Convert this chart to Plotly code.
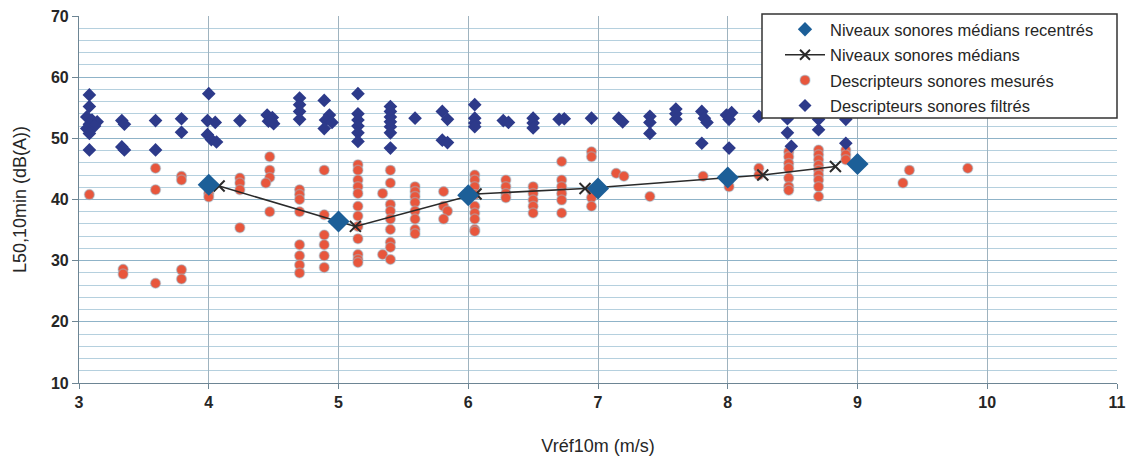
import plotly.graph_objects as go

# --- Descripteurs sonores filtrés (blue small diamonds)
filt_x = [3.08, 3.08, 3.06, 3.10, 3.14, 3.08, 3.12, 3.06, 3.08, 3.08,
          3.33, 3.35, 3.33, 3.35,
          3.59, 3.59,
          3.79, 3.79,
          4.00, 3.99, 4.05, 3.99, 4.02, 4.06,
          4.24,
          4.45, 4.49, 4.46, 4.50, 4.48,
          4.70, 4.70, 4.70, 4.70,
          4.89, 4.93, 4.90, 4.95, 4.89,
          5.15, 5.15, 5.15, 5.15, 5.15, 5.15,
          5.40, 5.40, 5.40, 5.40, 5.40, 5.40, 5.40,
          5.59,
          5.80, 5.84, 5.80, 5.84,
          6.05, 6.05, 6.05, 6.05,
          6.27, 6.31,
          6.50, 6.50, 6.50,
          6.70, 6.74,
          6.95,
          7.16, 7.19,
          7.40, 7.40, 7.40,
          7.60, 7.60, 7.60,
          7.80, 7.82, 7.84, 7.80,
          7.99, 8.03, 8.01, 8.01,
          8.24,
          8.46, 8.46, 8.49,
          8.70, 8.70,
          8.91, 8.91]
filt_y = [57.1, 55.2, 53.5, 53.0, 52.7, 52.3, 52.0, 51.6, 50.8, 48.1,
          52.9, 52.3, 48.6, 48.1,
          52.9, 48.1,
          53.2, 51.0,
          57.3, 52.9, 52.6, 50.6, 49.8, 49.4,
          52.9,
          53.8, 53.4, 52.8, 52.4, 52.9,
          56.6, 55.5, 54.4, 53.1,
          56.2, 53.8, 53.0, 52.6, 51.6,
          57.3, 54.0, 53.0, 52.0, 50.9, 49.5,
          55.2, 54.4, 53.5, 52.7, 51.9, 50.9, 48.4,
          53.3,
          54.4, 53.1, 49.7, 49.3,
          55.5, 53.3, 52.5, 51.9,
          52.9, 52.6,
          53.3, 52.5, 51.7,
          53.1, 53.2,
          53.3,
          53.3, 52.7,
          53.6, 52.6, 50.8,
          54.8, 54.0, 53.1,
          54.4, 53.3, 52.6, 49.2,
          53.8, 54.2, 53.1, 48.4,
          53.6,
          53.2, 50.9, 48.7,
          53.1, 51.4,
          53.1, 49.2]

# --- Descripteurs sonores mesurés (red dots)
mes_x = [3.08,
         3.34, 3.34,
         3.59, 3.59, 3.59,
         3.79, 3.79, 3.79, 3.79,
         4.00, 4.00,
         4.24, 4.24, 4.24, 4.24,
         4.47, 4.47, 4.47, 4.44, 4.47,
         4.70, 4.70, 4.70, 4.70, 4.70, 4.70, 4.70, 4.70,
         4.89, 4.89, 4.89, 4.89, 4.89, 4.89,
         5.15, 5.15, 5.15, 5.15, 5.15, 5.15, 5.15, 5.15, 5.15, 5.15, 5.15, 5.15,
         5.40, 5.40, 5.34, 5.40, 5.40, 5.40, 5.40, 5.40, 5.40, 5.34, 5.40,
         5.59, 5.59, 5.59, 5.59, 5.59, 5.59, 5.59, 5.59,
         5.81, 5.81, 5.84, 5.81,
         6.05, 6.05, 6.05, 6.05, 6.05, 6.05, 6.05, 6.05, 6.05,
         6.29, 6.29, 6.29, 6.29,
         6.50, 6.50, 6.50, 6.50, 6.50,
         6.72, 6.72, 6.72, 6.72, 6.72, 6.72,
         6.95, 6.95, 6.95, 6.95, 6.95,
         7.14, 7.20,
         7.40,
         7.81,
         8.01, 8.01,
         8.24, 8.24,
         8.47, 8.47, 8.47, 8.47, 8.47, 8.47, 8.47,
         8.70, 8.70, 8.70, 8.70, 8.70, 8.70, 8.70, 8.70, 8.70,
         8.91, 8.91, 8.91,
         9.35, 9.40, 9.85]
mes_y = [40.8,
         28.6, 27.8,
         45.1, 41.6, 26.3,
         43.8, 43.2, 28.5, 27.0,
         41.0, 40.4,
         43.5, 42.7, 41.6, 35.4,
         47.0, 44.8, 43.6, 42.7, 38.0,
         41.6, 40.8, 40.0, 38.0, 32.6, 30.8, 29.3, 28.0,
         44.8, 37.5, 34.2, 32.6, 30.8, 28.9,
         45.7, 44.8, 43.2, 42.1, 41.0, 38.9, 37.3, 35.6, 33.6, 31.0, 30.2, 29.7,
         44.8, 42.7, 41.0, 39.2, 38.1, 36.8, 35.1, 33.0, 32.2, 31.0, 30.2,
         42.1, 41.3, 40.5, 39.5, 38.1, 36.8, 35.1, 34.4,
         41.3, 38.9, 38.1, 36.8,
         44.0, 43.2, 42.1, 40.8, 38.9, 37.8, 36.8, 35.1, 34.8,
         43.2, 42.1, 41.0, 40.3,
         42.1, 41.0, 39.9, 38.9, 37.8,
         46.2, 43.2, 42.1, 41.0, 39.9, 37.8,
         47.8, 47.0, 41.5, 40.3, 38.9,
         44.3, 43.8,
         40.5,
         43.8,
         43.2, 42.1,
         45.1, 44.0,
         47.8, 47.0, 45.9, 45.1, 43.5, 42.1, 41.5,
         48.1, 47.3, 46.5, 45.6, 44.8, 44.0, 43.2, 42.1, 40.5,
         48.1, 47.3, 46.5,
         42.7, 44.8, 45.1]

# --- Niveaux sonores médians (line with X)
med_x = [4.08, 5.13, 6.06, 6.90, 8.27, 8.83]
med_y = [42.2, 35.6, 40.9, 41.8, 44.0, 45.4]

# --- Niveaux sonores médians recentrés (big diamonds)
rec_x = [4, 5, 6, 7, 8, 9]
rec_y = [42.4, 36.4, 40.7, 41.8, 43.6, 45.8]

x_ticks = [3, 4, 5, 6, 7, 8, 9, 10, 11]
y_ticks = [10, 20, 30, 40, 50, 60, 70]

legend_names = ["Niveaux sonores médians recentrés",
                "Niveaux sonores médians",
                "Descripteurs sonores mesurés",
                "Descripteurs sonores filtrés"]

FONT = "Liberation Sans, Arial, sans-serif"
TXT = "#262626"
C_REC = "#1c5f98"
C_MED = "#2a2a2a"
C_MES = "#e8563c"
C_FIL = "#2d3a8a"

fig = go.Figure()

# data traces (drawing order: measured, filtered, median line, recentred)
fig.add_trace(go.Scatter(
    x=mes_x, y=mes_y, mode="markers", showlegend=False,
    marker=dict(symbol="circle", size=10, color=C_MES,
                line=dict(width=1.5, color="rgba(150,190,210,0.45)")),
))
fig.add_trace(go.Scatter(
    x=filt_x, y=filt_y, mode="markers", showlegend=False,
    marker=dict(symbol="diamond", size=10.5, color=C_FIL, line=dict(width=0)),
))
fig.add_trace(go.Scatter(
    x=med_x, y=med_y, mode="lines+markers", showlegend=False,
    line=dict(color=C_MED, width=1.6),
    marker=dict(symbol="x-thin", size=11, color=C_MED,
                line=dict(width=2, color=C_MED)),
))
fig.add_trace(go.Scatter(
    x=rec_x, y=rec_y, mode="markers", showlegend=False,
    marker=dict(symbol="diamond", size=17, color=C_REC, line=dict(width=0)),
))

# legend entries (no marks of their own)
fig.add_trace(go.Scatter(
    x=[None], y=[None], mode="markers", name=legend_names[0], legendgroup="a",
    marker=dict(symbol="diamond", size=11, color=C_REC)))
fig.add_trace(go.Scatter(
    x=[None], y=[None], mode="lines+markers", name=legend_names[1], legendgroup="b",
    line=dict(color=C_MED, width=1.6),
    marker=dict(symbol="x-thin", size=10, color=C_MED, line=dict(width=2, color=C_MED))))
fig.add_trace(go.Scatter(
    x=[None], y=[None], mode="markers", name=legend_names[2], legendgroup="c",
    marker=dict(symbol="circle", size=10, color=C_MES,
                line=dict(width=1.5, color="rgba(150,190,210,0.45)"))))
fig.add_trace(go.Scatter(
    x=[None], y=[None], mode="markers", name=legend_names[3], legendgroup="d",
    marker=dict(symbol="diamond", size=10, color=C_FIL)))

L, R, T, B = 79, 14, 16, 74
W, H = 1131, 457
pw, ph = W - L - R, H - T - B

def px2paper_x(px):
    return (px - L) / pw

def px2paper_y(py):
    return (H - B - py) / ph

fig.add_shape(type="rect", xref="paper", yref="paper",
              x0=px2paper_x(762), x1=px2paper_x(1117),
              y0=px2paper_y(118), y1=px2paper_y(14),
              line=dict(color="#333333", width=1.5),
              fillcolor="white", layer="above")

fig.update_layout(
    width=W, height=H,
    margin=dict(l=L, r=R, t=T, b=B),
    paper_bgcolor="white", plot_bgcolor="white",
    font=dict(family=FONT, size=16, color=TXT),
    showlegend=True,
    legend=dict(
        x=px2paper_x(780), y=px2paper_y(12), xanchor="left", yanchor="top",
        bgcolor="rgba(0,0,0,0)", borderwidth=0,
        font=dict(family=FONT, size=16.5, color=TXT),
        traceorder="grouped", tracegroupgap=1, itemwidth=40,
    ),
    xaxis=dict(
        range=[3, 11], tickvals=x_ticks, ticktext=[str(v) for v in x_ticks],
        showgrid=True, gridcolor="#9fb3bf", gridwidth=1,
        showline=True, linecolor="#6d8594", linewidth=1.2,
        ticks="outside", ticklen=5, tickcolor="#6d8594",
        zeroline=False, automargin=False,
        title=dict(text="Vréf10m (m/s)", font=dict(size=18), standoff=29),
        tickfont=dict(size=16, weight="bold"),
    ),
    yaxis=dict(
        range=[10, 70], tickvals=y_ticks, ticktext=[str(v) for v in y_ticks],
        showgrid=True, gridcolor="#8fb3c8", gridwidth=1.2,
        minor=dict(dtick=2, showgrid=True, gridcolor="#b5d0de", gridwidth=1),
        showline=True, linecolor="#6d8594", linewidth=1.2,
        ticks="outside", ticklen=6, tickcolor="#6d8594",
        zeroline=False, automargin=False,
        title=dict(text="L50,10min (dB(A))", font=dict(size=18), standoff=19),
        tickfont=dict(size=16, weight="bold"),
    ),
)

fig.write_html("out.html",
               config={"displayModeBar": False},
               post_script="document.body.style.margin='0';document.body.style.overflow='hidden';")
